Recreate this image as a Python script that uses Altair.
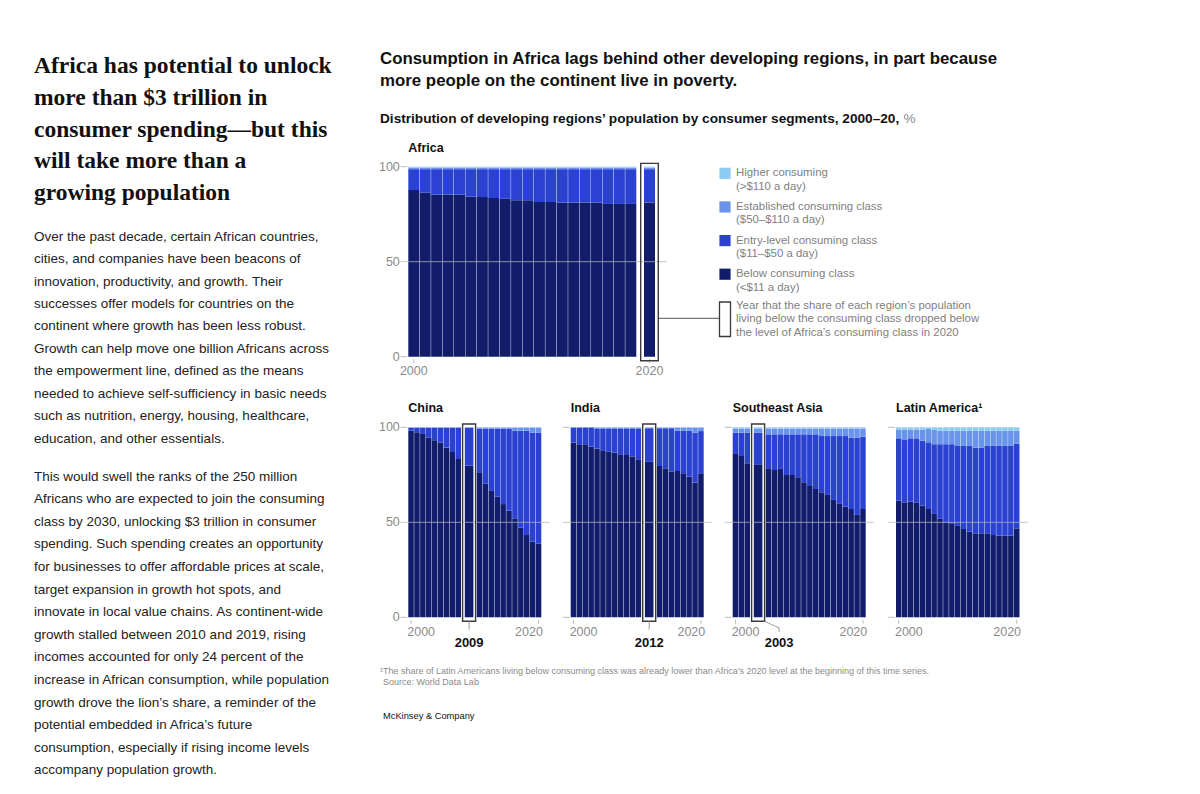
import altair as alt
import pandas as pd

YEARS = list(range(2000, 2021))
SEGMENTS = ["Below consuming class", "Entry-level consuming class",
            "Established consuming class", "Higher consuming"]
COLORS = ["#111d6b", "#2a41d1", "#6a94ea", "#8dcbf2"]

# ---- data (% of population by consumer segment, 2000-2020) ----
africa_below = [87.7, 86.3, 85.4, 85.4, 85.4, 84.2, 84.0, 83.5, 83.2, 82.3, 82.3,
                81.4, 81.4, 81.2, 81.2, 81.2, 81.2, 80.4, 80.4, 80.4, 81.2]
africa_entry = [11.0, 12.4, 13.3, 13.3, 13.3, 14.5, 14.7, 15.2, 15.5, 16.4, 16.4,
                17.3, 17.3, 17.5, 17.5, 17.5, 17.5, 18.3, 18.3, 18.3, 17.5]
africa_est = [0.8, 0.8, 0.8, 0.8, 0.8, 0.8, 0.8, 0.8, 0.8, 0.8, 0.8,
              0.8, 0.8, 0.8, 0.8, 0.8, 0.8, 0.8, 0.8, 0.8, 0.8]
africa_high = [0.5, 0.5, 0.5, 0.5, 0.5, 0.5, 0.5, 0.5, 0.5, 0.5, 0.5,
               0.5, 0.5, 0.5, 0.5, 0.5, 0.5, 0.5, 0.5, 0.5, 0.5]

china_below = [98.2, 97.4, 96.5, 94.6, 93.2, 91.9, 89.3, 87.0, 83.3, 79.8, 76.3,
               70.4, 66.5, 63.5, 59.6, 56.1, 52.1, 47.2, 43.3, 39.8, 38.8]
china_entry = [1.6, 2.4, 3.3, 5.2, 6.6, 7.9, 10.5, 12.8, 16.5, 20.0, 23.0,
               28.9, 32.8, 35.8, 39.7, 43.2, 46.1, 51.0, 54.9, 57.4, 58.4]
china_est = [0.2, 0.2, 0.2, 0.2, 0.2, 0.2, 0.2, 0.2, 0.2, 0.2, 0.6,
             0.6, 0.6, 0.6, 0.6, 0.6, 1.7, 1.7, 1.7, 2.7, 2.7]
china_high = [0.0, 0.0, 0.0, 0.0, 0.0, 0.0, 0.0, 0.0, 0.0, 0.0, 0.1,
              0.1, 0.1, 0.1, 0.1, 0.1, 0.1, 0.1, 0.1, 0.1, 0.1]

india_below = [91.9, 91.1, 91.1, 89.8, 88.9, 87.9, 87.2, 86.8, 85.8, 85.4, 84.6,
               83.2, 81.8, 79.6, 78.1, 76.7, 77.0, 75.8, 74.0, 71.0, 75.8]
india_entry = [8.0, 8.8, 8.8, 10.1, 10.2, 11.2, 11.9, 12.3, 13.3, 13.7, 14.5,
               15.9, 17.7, 19.9, 21.4, 22.8, 21.2, 22.4, 24.2, 26.2, 22.2]
india_est = [0.1, 0.1, 0.1, 0.1, 0.8, 0.8, 0.8, 0.8, 0.8, 0.8, 0.8,
             0.8, 0.4, 0.4, 0.4, 0.4, 1.7, 1.7, 1.7, 2.7, 1.9]
india_high = [0.0, 0.0, 0.0, 0.0, 0.1, 0.1, 0.1, 0.1, 0.1, 0.1, 0.1,
              0.1, 0.1, 0.1, 0.1, 0.1, 0.1, 0.1, 0.1, 0.1, 0.1]

sea_below = [86.3, 84.9, 81.1, 80.2, 78.4, 77.5, 78.1, 74.9, 74.9, 73.7, 71.1,
             69.1, 67.5, 65.8, 64.4, 61.8, 60.0, 58.2, 57.0, 53.9, 57.0]
sea_entry = [10.9, 12.3, 16.1, 17.0, 17.9, 18.8, 18.2, 21.4, 21.4, 22.6, 25.2,
             27.2, 28.8, 29.6, 31.0, 33.6, 35.4, 37.2, 37.6, 40.7, 38.1]
sea_est = [2.2, 2.2, 2.2, 2.2, 3.1, 3.1, 3.1, 3.1, 3.1, 3.1, 3.1,
           3.1, 3.1, 4.0, 4.0, 4.0, 4.0, 4.0, 4.8, 4.8, 4.3]
sea_high = [0.6, 0.6, 0.6, 0.6, 0.6, 0.6, 0.6, 0.6, 0.6, 0.6, 0.6,
            0.6, 0.6, 0.6, 0.6, 0.6, 0.6, 0.6, 0.6, 0.6, 0.6]

latam_below = [61.4, 60.5, 60.9, 60.5, 58.8, 57.0, 54.4, 51.8, 50.0, 49.5, 48.1,
               46.5, 45.1, 44.2, 44.2, 44.2, 43.3, 43.0, 43.0, 43.0, 46.8]
latam_entry = [32.8, 32.8, 33.3, 33.7, 34.2, 35.1, 36.7, 39.3, 41.1, 41.6, 42.1,
               43.7, 45.1, 45.1, 45.1, 46.0, 46.9, 47.2, 47.2, 47.2, 44.6]
latam_est = [4.6, 5.5, 4.6, 4.6, 5.8, 7.2, 7.5, 7.1, 7.1, 7.1, 8.0,
             8.0, 8.0, 8.9, 8.9, 8.0, 8.0, 8.0, 8.0, 8.0, 6.8]
latam_high = [1.2, 1.2, 1.2, 1.2, 1.2, 0.7, 1.4, 1.8, 1.8, 1.8, 1.8,
              1.8, 1.8, 1.8, 1.8, 1.8, 1.8, 1.8, 1.8, 1.8, 1.8]

Y_TICKS = [0, 50, 100]
X_TICK_YEARS = [2000, 2020]

HEADING = ["Africa has potential to unlock", "more than $3 trillion in",
           "consumer spending\u2014but this", "will take more than a",
           "growing population"]
PARA1 = ["Over the past decade, certain African countries,",
         "cities, and companies have been beacons of",
         "innovation, productivity, and growth. Their",
         "successes offer models for countries on the",
         "continent where growth has been less robust.",
         "Growth can help move one billion Africans across",
         "the empowerment line, defined as the means",
         "needed to achieve self-sufficiency in basic needs",
         "such as nutrition, energy, housing, healthcare,",
         "education, and other essentials."]
PARA2 = ["This would swell the ranks of the 250 million",
         "Africans who are expected to join the consuming",
         "class by 2030, unlocking $3 trillion in consumer",
         "spending. Such spending creates an opportunity",
         "for businesses to offer affordable prices at scale,",
         "target expansion in growth hot spots, and",
         "innovate in local value chains. As continent-wide",
         "growth stalled between 2010 and 2019, rising",
         "incomes accounted for only 24 percent of the",
         "increase in African consumption, while population",
         "growth drove the lion\u2019s share, a reminder of the",
         "potential embedded in Africa\u2019s future",
         "consumption, especially if rising income levels",
         "accompany population growth."]
TITLE = ["Consumption in Africa lags behind other developing regions, in part because",
         "more people on the continent live in poverty."]
SUBTITLE = "Distribution of developing regions\u2019 population by consumer segments, 2000\u201320,"
LEGEND_L1 = ["Higher consuming", "Established consuming class",
             "Entry-level consuming class", "Below consuming class"]
LEGEND_L2 = ["(>$110 a day)", "($50\u2013$110 a day)", "($11\u2013$50 a day)", "(<$11 a day)"]
LEGEND_COLORS = [COLORS[3], COLORS[2], COLORS[1], COLORS[0]]
BOX_NOTE = ["Year that the share of each region\u2019s population",
            "living below the consuming class dropped below",
            "the level of Africa\u2019s consuming class in 2020"]
FOOTNOTE = ("\u00b9The share of Latin Americans living below consuming class was already lower "
            "than Africa\u2019s 2020 level at the beginning of this time series.")

# ---- layout (page pixels; page margin 8) ----
M = 8
SMALL = dict(u=5.9, G=1.2, S=13.0, B=8.6, post=1.2, bottom=617.3, top=427.3)
PANELS = [
    dict(name="Africa", label="Africa", left=408.3, u=11.42, G=4.0, S=17.6, B=11.0,
         post=0.7, bottom=356.7, top=166.7, hl=2020, ylabels=True,
         data=[africa_below, africa_entry, africa_est, africa_high]),
    dict(SMALL, name="China", label="China", left=408.3, hl=2009, ylabels=True,
         data=[china_below, china_entry, china_est, china_high]),
    dict(SMALL, name="India", label="India", left=570.7, hl=2012, ylabels=False,
         data=[india_below, india_entry, india_est, india_high]),
    dict(SMALL, name="SEA", label="Southeast Asia", left=732.7, hl=2003, ylabels=False,
         data=[sea_below, sea_entry, sea_est, sea_high]),
    dict(SMALL, name="LatAm", label="Latin America\u00b9", left=896.0, hl=None, ylabels=False,
         data=[latam_below, latam_entry, latam_est, latam_high]),
]
GAP = 0.4
GREY = "#8a8a8a"
FONT = "Liberation Sans"


def slot_start(p, year):
    i = year - 2000
    hl = p["hl"]
    if hl is None or year <= hl:
        return i
    extra = (p["G"] + p["S"] + p["post"]) / p["u"] - 1
    return i + extra


def total_units(p):
    if p["hl"] is None:
        return 21
    return 21 + (p["G"] + p["S"] + p["post"]) / p["u"] - 1


def bar_span(p, year):
    s = slot_start(p, year)
    u = p["u"]
    if year == p["hl"]:
        a = s + p["G"] / u + (p["S"] - p["B"]) / (2 * u)
        return a, a + p["B"] / u
    return s, s + 1 - GAP / u


def box_span(p):
    s = slot_start(p, p["hl"])
    u = p["u"]
    return s + p["G"] / u, s + (p["G"] + p["S"]) / u


def xsc(p):
    t = total_units(p)
    return alt.Scale(domain=[0, t], range=[p["left"] - M, p["left"] - M + t * p["u"]],
                     nice=False, zero=False)


def ysc(p):
    return alt.Scale(domain=[0, 100], range=[p["bottom"] - M, p["top"] - M],
                     nice=False, zero=False)


def X(f, p):
    return alt.X(f, type="quantitative", scale=xsc(p), axis=None)


def Y(f, p):
    return alt.Y(f, type="quantitative", scale=ysc(p), axis=None)


def px_to_val(p, dy_px):
    return dy_px * 100.0 / (p["bottom"] - p["top"])


layers = []
color_scale = alt.Scale(domain=SEGMENTS, range=COLORS)
one = pd.DataFrame({"k": [0]})

for p in PANELS:
    rows = []
    for yi, year in enumerate(YEARS):
        a, b = bar_span(p, year)
        cum = 0.0
        for si, seg in enumerate(SEGMENTS):
            v = p["data"][si][yi]
            rows.append(dict(year=year, segment=seg, x0=a, x1=b, y0=cum, y1=cum + v))
            cum += v
    df = pd.DataFrame(rows)
    layers.append(alt.Chart(df).mark_rect().encode(
        x=X("x0", p), x2="x1", y=Y("y0", p), y2="y1",
        color=alt.Color("segment:N", scale=color_scale, legend=None)))

    t = total_units(p)
    u = p["u"]
    # gridline at 50 (drawn on top)
    grid = pd.DataFrame({"xa": [-8 / u], "xb": [t + 8 / u], "yv": [50]})
    layers.append(alt.Chart(grid).mark_rule(color="#b4b4b4", strokeWidth=1, opacity=0.75).encode(
        x=X("xa", p), x2="xb", y=Y("yv", p)))
    # y ticks at 0 and 100
    yt = pd.DataFrame({"xa": [-8 / u, -8 / u], "xb": [-1 / u, -1 / u], "yv": [0, 100]})
    layers.append(alt.Chart(yt).mark_rule(color="#bdbdbd", strokeWidth=1).encode(
        x=X("xa", p), x2="xb", y=Y("yv", p)))
    if p["ylabels"]:
        yl = pd.DataFrame({"xa": [-8.5 / u] * 3, "yv": Y_TICKS, "lab": [str(v) for v in Y_TICKS]})
        layers.append(alt.Chart(yl).mark_text(align="right", baseline="middle", font=FONT,
                                               fontSize=12.5, color=GREY).encode(
            x=X("xa", p), y=Y("yv", p), text="lab:N"))
    # x ticks at 2000 and 2020
    centers = [sum(bar_span(p, yr)) / 2 for yr in X_TICK_YEARS]
    xt = pd.DataFrame({"xc": centers, "ya": [-px_to_val(p, 2.5)] * 2,
                       "yb": [-px_to_val(p, 6.5)] * 2})
    layers.append(alt.Chart(xt).mark_rule(color="#bdbdbd", strokeWidth=1).encode(
        x=X("xc", p), y=Y("ya", p), y2="yb"))
    lab_y = p["bottom"] + 14.5 - M
    if p["name"] == "Africa":
        xl = pd.DataFrame({"xc": centers, "lab": [str(v) for v in X_TICK_YEARS]})
        layers.append(alt.Chart(xl).mark_text(align="center", baseline="middle", font=FONT,
                                               fontSize=12.5, color=GREY).encode(
            x=X("xc", p), y=alt.value(lab_y), text="lab:N"))
    else:
        xl1 = pd.DataFrame({"xc": [centers[0]], "lab": [str(X_TICK_YEARS[0])]})
        xl2 = pd.DataFrame({"xc": [centers[1]], "lab": [str(X_TICK_YEARS[1])]})
        layers.append(alt.Chart(xl1).mark_text(align="left", baseline="middle", font=FONT,
                                                fontSize=12.5, color=GREY, dx=-3.8).encode(
            x=X("xc", p), y=alt.value(lab_y), text="lab:N"))
        layers.append(alt.Chart(xl2).mark_text(align="right", baseline="middle", font=FONT,
                                                fontSize=12.5, color=GREY, dx=4.3).encode(
            x=X("xc", p), y=alt.value(lab_y), text="lab:N"))
    # panel label
    layers.append(alt.Chart(one).mark_text(text=p["label"], align="left", baseline="alphabetic",
                                           font=FONT, fontSize=12.5, fontWeight="bold",
                                           color="#111").encode(
        x=alt.value(p["left"] - M), y=alt.value(p["top"] - 15 - M)))
    # highlight box
    if p["hl"] is not None:
        ba, bb = box_span(p)
        top_v = 100 + px_to_val(p, 3.3)
        bot_v = -px_to_val(p, 4.0)
        box = pd.DataFrame({"xa": [ba], "xb": [bb], "ya": [bot_v], "yb": [top_v]})
        layers.append(alt.Chart(box).mark_rect(fillOpacity=0, stroke="#3a3a3a",
                                               strokeWidth=1.4).encode(
            x=X("xa", p), x2="xb", y=Y("ya", p), y2="yb"))
        bc = (ba + bb) / 2
        if p["name"] == "Africa":
            conn = pd.DataFrame({"xa": [bb], "yv": [px_to_val(p, 356.7 - 318.3)]})
            layers.append(alt.Chart(conn).mark_rule(color="#555", strokeWidth=1).encode(
                x=X("xa", p), x2=alt.value(719.3 - M), y=Y("yv", p)))
        elif p["name"] == "SEA":
            lx = bc + 21.0 / u
            pts = pd.DataFrame({"xv": [bb, lx, lx],
                                "yv": [bot_v, bot_v - px_to_val(p, 6.6), bot_v - px_to_val(p, 10.6)],
                                "o": [0, 1, 2]})
            layers.append(alt.Chart(pts).mark_line(color="#9a9a9a", strokeWidth=1).encode(
                x=X("xv", p), y=Y("yv", p), order="o:Q"))
            hl_lab = pd.DataFrame({"xc": [lx], "lab": [str(p["hl"])]})
            layers.append(alt.Chart(hl_lab).mark_text(align="center", baseline="middle", font=FONT,
                                                      fontSize=13, fontWeight="bold",
                                                      color="#111").encode(
                x=X("xc", p), y=alt.value(p["bottom"] + 25.5 - M), text="lab:N"))
        else:
            tk = pd.DataFrame({"xc": [bc], "ya": [bot_v], "yb": [bot_v - px_to_val(p, 8.3)]})
            layers.append(alt.Chart(tk).mark_rule(color="#9a9a9a", strokeWidth=1).encode(
                x=X("xc", p), y=Y("ya", p), y2="yb"))
            hl_lab = pd.DataFrame({"xc": [bc], "lab": [str(p["hl"])]})
            layers.append(alt.Chart(hl_lab).mark_text(align="center", baseline="middle", font=FONT,
                                                      fontSize=13, fontWeight="bold",
                                                      color="#111").encode(
                x=X("xc", p), y=alt.value(p["bottom"] + 25.5 - M), text="lab:N"))

# ---- legend ----
leg = pd.DataFrame({"i": [0, 1, 2, 3], "l1": LEGEND_L1, "l2": LEGEND_L2, "c": LEGEND_COLORS})
leg_y = alt.Scale(domain=[0, 3], range=[173.3 - M, 274.2 - M], nice=False, zero=False)
layers.append(alt.Chart(leg).mark_square(size=125, opacity=1, shape="square").encode(
    x=alt.value(725 - M), y=alt.Y("i:Q", scale=leg_y, axis=None),
    color=alt.Color("c:N", scale=None)))
layers.append(alt.Chart(leg).mark_text(align="left", baseline="middle", font=FONT, fontSize=11.4,
                                       color="#808080").encode(
    x=alt.value(736 - M), y=alt.Y("i:Q", scale=leg_y, axis=None), text="l1:N"))
layers.append(alt.Chart(leg).mark_text(align="left", baseline="middle", font=FONT, fontSize=11.4,
                                       color="#808080", dy=13.4).encode(
    x=alt.value(736 - M), y=alt.Y("i:Q", scale=leg_y, axis=None), text="l2:N"))
layers.append(alt.Chart(one).mark_rect(fillOpacity=0, stroke="#3a3a3a", strokeWidth=1.3).encode(
    x=alt.value(719.5 - M), x2=alt.value(730.5 - M), y=alt.value(302 - M), y2=alt.value(336.5 - M)))
layers.append(alt.Chart(one).mark_text(text=BOX_NOTE, align="left", baseline="middle", font=FONT,
                                       fontSize=11.4, color="#808080", lineHeight=13.4).encode(
    x=alt.value(736 - M), y=alt.value(306 - M)))

# ---- text blocks ----
layers.append(alt.Chart(one).mark_text(text=HEADING, align="left", baseline="alphabetic",
                                       font="Liberation Serif", fontSize=23.5, fontWeight="bold",
                                       color="#111", lineHeight=31.7).encode(
    x=alt.value(34 - M), y=alt.value(73.3 - M)))
layers.append(alt.Chart(one).mark_text(text=PARA1, align="left", baseline="alphabetic",
                                       font=FONT, fontSize=13.5, color="#222",
                                       lineHeight=22.45).encode(
    x=alt.value(34 - M), y=alt.value(240.7 - M)))
layers.append(alt.Chart(one).mark_text(text=PARA2, align="left", baseline="alphabetic",
                                       font=FONT, fontSize=13.5, color="#222",
                                       lineHeight=22.6).encode(
    x=alt.value(34 - M), y=alt.value(480.5 - M)))
layers.append(alt.Chart(one).mark_text(text=TITLE, align="left", baseline="alphabetic",
                                       font=FONT, fontSize=16.85, fontWeight="bold",
                                       color="#111", lineHeight=22).encode(
    x=alt.value(380 - M), y=alt.value(64 - M)))
layers.append(alt.Chart(one).mark_text(text=SUBTITLE, align="left", baseline="alphabetic",
                                       font=FONT, fontSize=13.65, fontWeight="bold",
                                       color="#111").encode(
    x=alt.value(380 - M), y=alt.value(123 - M)))
layers.append(alt.Chart(one).mark_text(text="%", align="left", baseline="alphabetic",
                                       font=FONT, fontSize=13.65, color="#888").encode(
    x=alt.value(903.5 - M), y=alt.value(123 - M)))
layers.append(alt.Chart(one).mark_text(text=FOOTNOTE, align="left", baseline="alphabetic",
                                       font=FONT, fontSize=9.0, color="#8a8a8a").encode(
    x=alt.value(380 - M), y=alt.value(674 - M)))
layers.append(alt.Chart(one).mark_text(text="Source: World Data Lab", align="left",
                                       baseline="alphabetic", font=FONT, fontSize=9.0,
                                       color="#8a8a8a").encode(
    x=alt.value(383 - M), y=alt.value(685 - M)))
layers.append(alt.Chart(one).mark_text(text="McKinsey & Company", align="left",
                                       baseline="alphabetic", font=FONT, fontSize=9.3,
                                       color="#111").encode(
    x=alt.value(383 - M), y=alt.value(719 - M)))

chart = alt.layer(*layers).resolve_scale(
    x="independent", y="independent", color="independent"
).properties(
    width=1184, height=778, padding=0, autosize=alt.AutoSizeParams(type="none"),
    background="white"
).configure_view(stroke=None)

chart.save("out.html", embed_options={"renderer": "svg", "actions": False})
